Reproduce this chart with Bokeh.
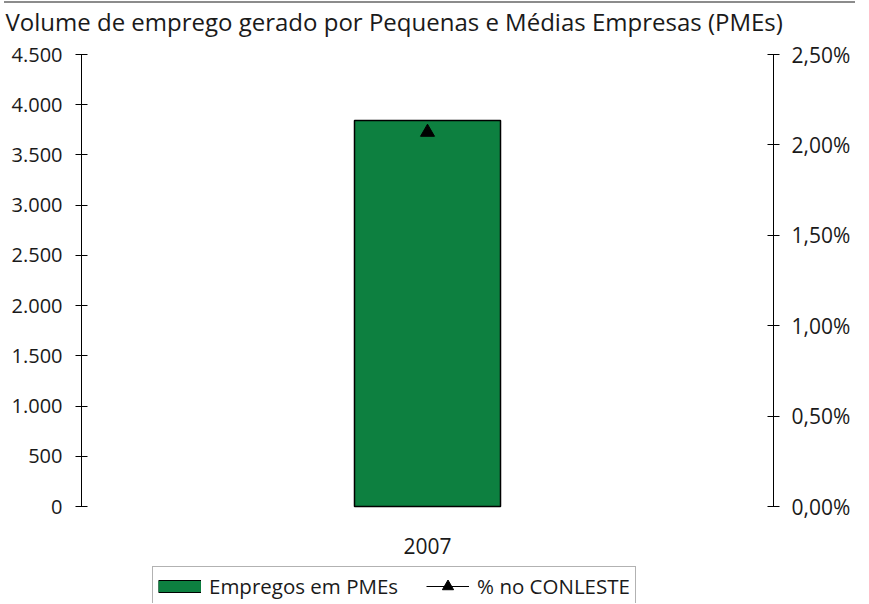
from bokeh.plotting import figure
from bokeh.models import (FactorRange, Range1d, LinearAxis, FixedTicker, Legend,
                          LegendItem, Div)
from bokeh.core.properties import value
from bokeh.layouts import column
from bokeh.embed import file_html
from bokeh.resources import INLINE

# ---- data ----
years = ["2007"]
empregos_pmes = [3843]
pct_conleste = [2.07]  # percent

left_ticks = [0, 500, 1000, 1500, 2000, 2500, 3000, 3500, 4000, 4500]
left_labels = ["0", "500", "1.000", "1.500", "2.000", "2.500", "3.000", "3.500", "4.000", "4.500"]
right_ticks = [0, 0.5, 1.0, 1.5, 2.0, 2.5]
right_labels = ["0,00%", "0,50%", "1,00%", "1,50%", "2,00%", "2,50%"]

title_text = "Volume de emprego gerado por Pequenas e Médias Empresas (PMEs)"
FONT = "Open Sans"
TXT = "#1a1a1a"
GREEN = "#0d8040"

# layout (pixels): value axis spans 452 px, 97 px of space below the zero line
AXIS_PX = 452
BELOW_PX = 97
y_max = left_ticks[-1]
pct_max = right_ticks[-1]
y_min = -y_max * BELOW_PX / AXIS_PX
pct_min = -pct_max * BELOW_PX / AXIS_PX

p = figure(x_range=FactorRange(*years, range_padding=0), y_range=Range1d(y_min, y_max),
           frame_width=692, frame_height=AXIS_PX + BELOW_PX, output_backend="svg",
           toolbar_location=None,
           min_border_left=81, min_border_right=88, min_border_top=60, min_border_bottom=0,
           title=title_text, margin=(-17, 0, 0, 0))
p.extra_y_ranges = {"pct": Range1d(pct_min, pct_max)}

p.title.text_font = FONT
p.title.text_font_size = "24px"
p.title.text_font_style = "normal"
p.title.text_color = TXT
p.title.offset = -76
p.title.standoff = 33

p.grid.visible = False
p.outline_line_color = None
p.background_fill_color = None
p.border_fill_color = None
p.xaxis.visible = False

bar = p.vbar(x=years, top=empregos_pmes, width=0.211, fill_color=GREEN,
             line_color="black", line_width=1.5)
ln = p.line(x=years, y=pct_conleste, y_range_name="pct", line_color="black", line_width=1)
tri = p.scatter(x=years, y=pct_conleste, y_range_name="pct", marker="triangle",
                size=14, fill_color="black", line_color="black")

# legend swatch for the bars (single-point lines draw nothing on the plot)
sw_edge = p.line(x=years, y=empregos_pmes, line_color="black", line_width=13)
sw_fill = p.line(x=years, y=empregos_pmes, line_color=GREEN, line_width=11)

# category label under the bar
p.text(x=years, y=[0] * len(years), text=years, y_offset=39,
       text_align="center", text_baseline="middle",
       text_font=value(FONT), text_font_size="21px", text_color=TXT)

# left axis
ya = p.yaxis[0]
ya.ticker = FixedTicker(ticks=left_ticks)
ya.bounds = (0, y_max)
ya.major_label_overrides = {t: l for t, l in zip(left_ticks, left_labels)}
ya.minor_tick_line_color = None
ya.major_tick_in = 6
ya.major_tick_out = 6
ya.major_label_standoff = 13
ya.axis_line_color = "black"
ya.major_tick_line_color = "black"
ya.major_label_text_font = FONT
ya.major_label_text_font_size = "20px"
ya.major_label_text_color = TXT

# right axis
ra = LinearAxis(y_range_name="pct", ticker=FixedTicker(ticks=right_ticks), bounds=(0, pct_max))
ra.major_label_overrides = {t: l for t, l in zip(right_ticks, right_labels)}
ra.minor_tick_line_color = None
ra.major_tick_in = 6
ra.major_tick_out = 6
ra.major_label_standoff = 12
ra.axis_line_color = "black"
ra.major_tick_line_color = "black"
ra.major_label_text_font = FONT
ra.major_label_text_font_size = "21px"
ra.major_label_text_color = TXT
p.add_layout(ra, "right")

legend = Legend(items=[LegendItem(label="Empregos em PMEs", renderers=[sw_edge, sw_fill]),
                       LegendItem(label="% no CONLESTE", renderers=[ln, tri])],
                orientation="horizontal", location=(71, -3), margin=0,
                glyph_width=43, glyph_height=28, label_standoff=8, spacing=28,
                padding=5, border_line_color="#666666", border_line_width=1,
                label_text_font=FONT, label_text_font_size="20.5px",
                label_text_color=TXT, background_fill_alpha=0)
p.add_layout(legend, "center")

line_div = Div(width=851, height=2, margin=(1, 0, 0, 4),
               styles={"background-color": "#8c8c8c"})

layout = column(line_div, p, spacing=0)

open("out.html", "w").write(file_html(layout, INLINE))
